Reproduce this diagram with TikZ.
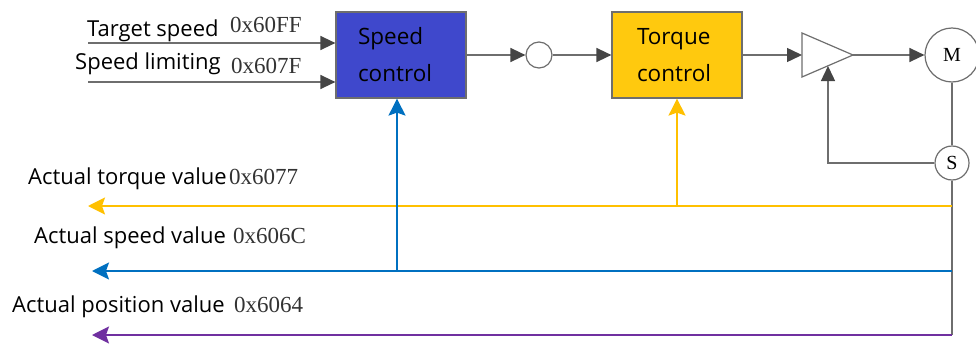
\documentclass[tikz,border=0pt]{standalone}
\usepackage{fontspec}
\setmainfont{Open Sans}
\newfontfamily\hexfont{Liberation Serif}
\usetikzlibrary{arrows.meta}
\definecolor{boxblue}{HTML}{3F48CC}
\definecolor{boxyellow}{HTML}{FFC90E}
\definecolor{lineyellow}{HTML}{FFC000}
\definecolor{lineblue}{HTML}{0070C0}
\definecolor{linepurple}{HTML}{7030A0}
\definecolor{linegray}{HTML}{6E6E6E}
\definecolor{tipgray}{HTML}{454545}
\tikzset{
  ctrlbox/.style={draw=linegray, line width=1.2pt, minimum width=130pt, minimum height=86pt,
    inner ysep=0pt, align=left, font=\fontsize{22.5}{37}\selectfont},
  ring/.style={circle, draw=linegray, line width=1.2pt, fill=white, inner sep=0pt},
  sig/.style={draw=linegray, line width=1.4pt, -{Triangle[length=15pt,width=14pt,color=tipgray]}},
  wire/.style={draw=linegray, line width=1.4pt},
  fb/.style={line width=1.8pt, -{Stealth[length=17pt,width=17pt,inset=3pt]}},
  lbl/.style={inner sep=0pt, anchor=base west, font=\fontsize{22}{26}\selectfont},
  hex/.style={inner sep=0pt, anchor=base west, font=\hexfont\fontsize{23}{26}\selectfont, text=black!80},
}
\begin{document}
\begin{tikzpicture}[x=1pt, y=-1pt]
\useasboundingbox (0,0) rectangle (976,345);

% control blocks
\node[ctrlbox, fill=boxblue, inner xsep=22pt, text width=86pt] (spd) at (401,55) {Speed\\control};
\node[ctrlbox, fill=boxyellow, inner xsep=25pt, text width=80pt] (trq) at (677,55) {Torque\\control};

% summing point, motor and sensor
\node[ring, minimum size=26pt] (sum) at (539,55) {};
\node[ring, minimum size=54pt, font=\hexfont\fontsize{20}{22}\selectfont] (mot) at (952,55) {M};
\node[ring, minimum size=34pt, font=\hexfont\fontsize{20}{22}\selectfont] (sen) at (952,163) {S};

% amplifier
\coordinate (ampin) at (802,55);
\coordinate (ampout) at (853,55);
\coordinate (ampfb) at (828,66);
\draw[linegray, line width=1.2pt, fill=white] (802,33) -- (ampout) -- (802,77) -- cycle;

% setpoint inputs
\coordinate (tsin) at (88,43);
\coordinate (slin) at (88,82);
\draw[sig] (tsin) -- (spd.west |- tsin);
\draw[sig] (slin) -- (spd.west |- slin);
\node[lbl] (tslbl) at (87,37) {Target speed};
\node[hex] (tshex) at (230,33) {0x60FF};
\node[lbl] (sllbl) at (75,70) {Speed limiting};
\node[hex] (slhex) at (231,74) {0x607F};

% forward path
\draw[sig] (spd.east) -- (sum.west);
\draw[sig] (sum.east) -- (trq.west);
\draw[sig] (trq.east) -- (ampin);
\draw[sig] (ampout) -- (mot.west);

% motor shaft to sensor and down to the bus
\coordinate (busend) at (952,335);
\draw[wire] (mot.south) -- (sen.north);
\draw[wire] (sen.south) -- (busend);
\draw[sig] (sen.west) -| (ampfb);

% feedback buses
\coordinate (tqr) at (952,206);
\coordinate (spr) at (952,271);
\coordinate (tqend) at (88,206);
\coordinate (spend) at (92,271);
\coordinate (psend) at (92,335);
\coordinate (tqtap) at (677,206);
\coordinate (sptap) at (397,271);
\draw[fb, lineyellow] (tqr) -- (tqend);
\draw[fb, lineblue] (spr) -- (spend);
\draw[fb, linepurple] (busend) -- (psend);
\draw[fb, lineyellow] (tqtap) -- (tqtap |- trq.south);
\draw[fb, lineblue] (sptap) -- (sptap |- spd.south);

% feedback labels
\node[lbl] (tqlbl) at (28,184) {Actual torque value};
\node[hex] (tqhex) at (229,184) {0x6077};
\node[lbl] (splbl) at (34,243) {Actual speed value};
\node[hex] (sphex) at (233,243) {0x606C};
\node[lbl] (pslbl) at (12,312) {Actual position value};
\node[hex] (pshex) at (234,312) {0x6064};
\end{tikzpicture}
\end{document}
